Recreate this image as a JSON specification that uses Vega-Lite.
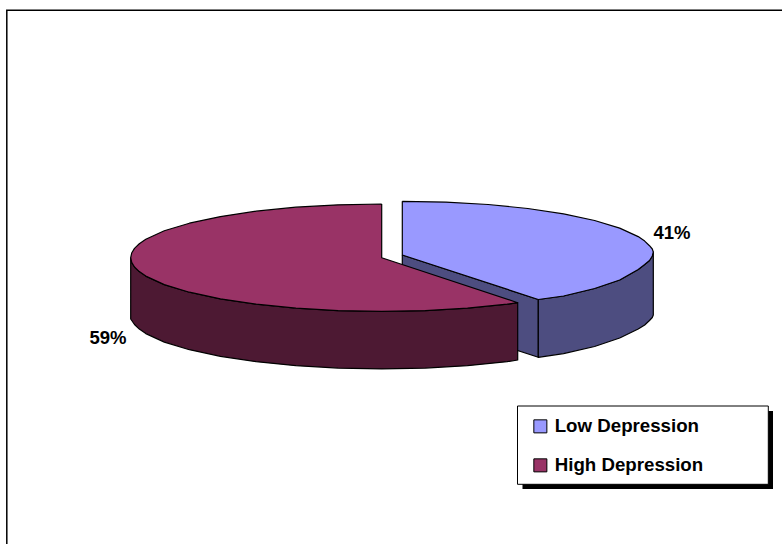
{
  "$schema": "https://vega.github.io/schema/vega-lite/v6.json",
  "width": 782,
  "height": 544,
  "padding": 0,
  "autosize": {"type": "none"},
  "background": "white",
  "config": {"view": {"stroke": null}},
  "datasets": {
    "frame": [
      {"i": 0, "x": 6.8, "y": 544},
      {"i": 1, "x": 6.8, "y": 10.3},
      {"i": 2, "x": 782, "y": 10.3}
    ],
    "legendBox": [
      {"box": "shadow", "x": 522.5, "x2": 773, "y": 411, "y2": 489},
      {"box": "panel", "x": 517.5, "x2": 768.3, "y": 406, "y2": 484.3}
    ],
    "pieLabels": [
      {"label": "41%", "x": 672, "y": 233},
      {"label": "59%", "x": 108, "y": 338}
    ],
    "faces": [
      {"part": "Low Depression inner", "i": 0, "x": 402.3, "y": 255},
      {"part": "Low Depression inner", "i": 1, "x": 538.3, "y": 299.5},
      {"part": "Low Depression inner", "i": 2, "x": 538.3, "y": 357.3},
      {"part": "Low Depression inner", "i": 3, "x": 402.3, "y": 312.5},
      {"part": "Low Depression inner", "i": 4, "x": 402.3, "y": 255},

      {"part": "Low Depression side", "i": 0, "x": 538.3, "y": 299.5},
      {"part": "Low Depression side", "i": 1, "x": 563.6, "y": 296},
      {"part": "Low Depression side", "i": 2, "x": 594.6, "y": 288.5},
      {"part": "Low Depression side", "i": 3, "x": 619.7, "y": 280},
      {"part": "Low Depression side", "i": 4, "x": 638.2, "y": 269.5},
      {"part": "Low Depression side", "i": 5, "x": 644.7, "y": 264.5},
      {"part": "Low Depression side", "i": 6, "x": 649.5, "y": 260.5},
      {"part": "Low Depression side", "i": 7, "x": 652.3, "y": 256},
      {"part": "Low Depression side", "i": 8, "x": 653.3, "y": 252},
      {"part": "Low Depression side", "i": 9, "x": 653.3, "y": 315},
      {"part": "Low Depression side", "i": 10, "x": 652.3, "y": 317.5},
      {"part": "Low Depression side", "i": 11, "x": 649.5, "y": 320.5},
      {"part": "Low Depression side", "i": 12, "x": 644.7, "y": 325},
      {"part": "Low Depression side", "i": 13, "x": 638.2, "y": 329},
      {"part": "Low Depression side", "i": 14, "x": 619.7, "y": 338},
      {"part": "Low Depression side", "i": 15, "x": 594.6, "y": 346.5},
      {"part": "Low Depression side", "i": 16, "x": 563.6, "y": 353.6},
      {"part": "Low Depression side", "i": 17, "x": 538.3, "y": 357.3},
      {"part": "Low Depression side", "i": 18, "x": 538.3, "y": 299.5},

      {"part": "High Depression side", "i": 0, "x": 130.7, "y": 257.7},
      {"part": "High Depression side", "i": 1, "x": 131.7, "y": 262.4},
      {"part": "High Depression side", "i": 2, "x": 134.5, "y": 267},
      {"part": "High Depression side", "i": 3, "x": 139.3, "y": 271.6},
      {"part": "High Depression side", "i": 4, "x": 145.8, "y": 276.1},
      {"part": "High Depression side", "i": 5, "x": 164.3, "y": 284.6},
      {"part": "High Depression side", "i": 6, "x": 189.4, "y": 292.2},
      {"part": "High Depression side", "i": 7, "x": 220.4, "y": 298.8},
      {"part": "High Depression side", "i": 8, "x": 256.2, "y": 304.2},
      {"part": "High Depression side", "i": 9, "x": 295.9, "y": 308.2},
      {"part": "High Depression side", "i": 10, "x": 338.1, "y": 310.6},
      {"part": "High Depression side", "i": 11, "x": 381.7, "y": 311.4},
      {"part": "High Depression side", "i": 12, "x": 425.3, "y": 310.6},
      {"part": "High Depression side", "i": 13, "x": 467.5, "y": 308.2},
      {"part": "High Depression side", "i": 14, "x": 507.2, "y": 304.2},
      {"part": "High Depression side", "i": 15, "x": 517.7, "y": 302.7},
      {"part": "High Depression side", "i": 16, "x": 517.7, "y": 360},
      {"part": "High Depression side", "i": 17, "x": 507.2, "y": 361.7},
      {"part": "High Depression side", "i": 18, "x": 467.5, "y": 365.7},
      {"part": "High Depression side", "i": 19, "x": 425.3, "y": 368.1},
      {"part": "High Depression side", "i": 20, "x": 381.7, "y": 368.9},
      {"part": "High Depression side", "i": 21, "x": 338.1, "y": 368.1},
      {"part": "High Depression side", "i": 22, "x": 295.9, "y": 365.7},
      {"part": "High Depression side", "i": 23, "x": 256.2, "y": 361.7},
      {"part": "High Depression side", "i": 24, "x": 220.4, "y": 356.3},
      {"part": "High Depression side", "i": 25, "x": 189.4, "y": 349.7},
      {"part": "High Depression side", "i": 26, "x": 164.3, "y": 342.1},
      {"part": "High Depression side", "i": 27, "x": 145.8, "y": 333.6},
      {"part": "High Depression side", "i": 28, "x": 139.3, "y": 329.1},
      {"part": "High Depression side", "i": 29, "x": 134.5, "y": 324.5},
      {"part": "High Depression side", "i": 30, "x": 130.7, "y": 319},
      {"part": "High Depression side", "i": 31, "x": 130.7, "y": 257.7},

      {"part": "Low Depression", "i": 0, "x": 402.3, "y": 201.3},
      {"part": "Low Depression", "i": 1, "x": 445.9, "y": 202.1},
      {"part": "Low Depression", "i": 2, "x": 488.1, "y": 204.5},
      {"part": "Low Depression", "i": 3, "x": 527.8, "y": 208.5},
      {"part": "Low Depression", "i": 4, "x": 563.6, "y": 213.9},
      {"part": "Low Depression", "i": 5, "x": 594.6, "y": 220.5},
      {"part": "Low Depression", "i": 6, "x": 619.7, "y": 228.1},
      {"part": "Low Depression", "i": 7, "x": 638.2, "y": 236.6},
      {"part": "Low Depression", "i": 8, "x": 644.7, "y": 241.1},
      {"part": "Low Depression", "i": 9, "x": 649.5, "y": 245.7},
      {"part": "Low Depression", "i": 10, "x": 652.3, "y": 249},
      {"part": "Low Depression", "i": 11, "x": 653.3, "y": 252},
      {"part": "Low Depression", "i": 12, "x": 652.3, "y": 256},
      {"part": "Low Depression", "i": 13, "x": 649.5, "y": 260.5},
      {"part": "Low Depression", "i": 14, "x": 644.7, "y": 264.5},
      {"part": "Low Depression", "i": 15, "x": 638.2, "y": 269.5},
      {"part": "Low Depression", "i": 16, "x": 619.7, "y": 280},
      {"part": "Low Depression", "i": 17, "x": 594.6, "y": 288.5},
      {"part": "Low Depression", "i": 18, "x": 563.6, "y": 296},
      {"part": "Low Depression", "i": 19, "x": 538.3, "y": 299.5},
      {"part": "Low Depression", "i": 20, "x": 402.3, "y": 255},
      {"part": "Low Depression", "i": 21, "x": 402.3, "y": 201.3},

      {"part": "High Depression", "i": 0, "x": 381.7, "y": 204},
      {"part": "High Depression", "i": 1, "x": 338.1, "y": 204.8},
      {"part": "High Depression", "i": 2, "x": 295.9, "y": 207.2},
      {"part": "High Depression", "i": 3, "x": 256.2, "y": 211.2},
      {"part": "High Depression", "i": 4, "x": 220.4, "y": 216.6},
      {"part": "High Depression", "i": 5, "x": 189.4, "y": 223.2},
      {"part": "High Depression", "i": 6, "x": 164.3, "y": 230.8},
      {"part": "High Depression", "i": 7, "x": 145.8, "y": 239.3},
      {"part": "High Depression", "i": 8, "x": 139.3, "y": 243.8},
      {"part": "High Depression", "i": 9, "x": 134.5, "y": 248.4},
      {"part": "High Depression", "i": 10, "x": 131.7, "y": 253},
      {"part": "High Depression", "i": 11, "x": 130.7, "y": 257.7},
      {"part": "High Depression", "i": 12, "x": 131.7, "y": 262.4},
      {"part": "High Depression", "i": 13, "x": 134.5, "y": 267},
      {"part": "High Depression", "i": 14, "x": 139.3, "y": 271.6},
      {"part": "High Depression", "i": 15, "x": 145.8, "y": 276.1},
      {"part": "High Depression", "i": 16, "x": 164.3, "y": 284.6},
      {"part": "High Depression", "i": 17, "x": 189.4, "y": 292.2},
      {"part": "High Depression", "i": 18, "x": 220.4, "y": 298.8},
      {"part": "High Depression", "i": 19, "x": 256.2, "y": 304.2},
      {"part": "High Depression", "i": 20, "x": 295.9, "y": 308.2},
      {"part": "High Depression", "i": 21, "x": 338.1, "y": 310.6},
      {"part": "High Depression", "i": 22, "x": 381.7, "y": 311.4},
      {"part": "High Depression", "i": 23, "x": 425.3, "y": 310.6},
      {"part": "High Depression", "i": 24, "x": 467.5, "y": 308.2},
      {"part": "High Depression", "i": 25, "x": 507.2, "y": 304.2},
      {"part": "High Depression", "i": 26, "x": 517.7, "y": 302.7},
      {"part": "High Depression", "i": 27, "x": 381.7, "y": 257.7},
      {"part": "High Depression", "i": 28, "x": 381.7, "y": 204}
    ]
  },
  "encoding": {
    "x": {"field": "x", "type": "quantitative", "axis": null, "scale": {"domain": [0, 782], "nice": false, "zero": false}},
    "y": {"field": "y", "type": "quantitative", "axis": null, "scale": {"domain": [544, 0], "nice": false, "zero": false}}
  },
  "layer": [
    {
      "data": {"name": "frame"},
      "mark": {"type": "line", "stroke": "#000000", "strokeWidth": 1.5, "clip": false},
      "encoding": {"order": {"field": "i", "type": "quantitative"}}
    },
    {
      "data": {"name": "legendBox"},
      "transform": [{"filter": "datum.box === 'shadow'"}],
      "mark": {"type": "rect", "fill": "#000000"},
      "encoding": {"x2": {"field": "x2"}, "y2": {"field": "y2"}}
    },
    {
      "data": {"name": "legendBox"},
      "transform": [{"filter": "datum.box === 'panel'"}],
      "mark": {"type": "rect", "fill": "#ffffff", "stroke": "#000000", "strokeWidth": 1},
      "encoding": {"x2": {"field": "x2"}, "y2": {"field": "y2"}}
    },
    {
      "data": {"name": "faces"},
      "transform": [{"filter": "indexof(datum.part, 'Low Depression') === 0 && datum.part !== 'Low Depression'"}],
      "mark": {"type": "line", "stroke": "#000000", "strokeWidth": 1.2, "strokeJoin": "round"},
      "encoding": {
        "fill": {"field": "part", "type": "nominal"},
        "detail": {"field": "part"},
        "order": {"field": "i", "type": "quantitative"}
      }
    },
    {
      "data": {"name": "faces"},
      "transform": [{"filter": "datum.part === 'Low Depression'"}],
      "mark": {"type": "line", "stroke": "#000000", "strokeWidth": 1.2, "strokeJoin": "round"},
      "encoding": {
        "fill": {"field": "part", "type": "nominal"},
        "order": {"field": "i", "type": "quantitative"}
      }
    },
    {
      "data": {"name": "faces"},
      "transform": [{"filter": "datum.part === 'High Depression side'"}],
      "mark": {"type": "line", "stroke": "#000000", "strokeWidth": 1.2, "strokeJoin": "round"},
      "encoding": {
        "fill": {"field": "part", "type": "nominal"},
        "order": {"field": "i", "type": "quantitative"}
      }
    },
    {
      "data": {"name": "faces"},
      "transform": [{"filter": "datum.part === 'High Depression'"}],
      "mark": {"type": "line", "stroke": "#000000", "strokeWidth": 1.2, "strokeJoin": "round"},
      "encoding": {
        "fill": {
          "field": "part",
          "type": "nominal",
          "scale": {
            "domain": ["Low Depression", "High Depression", "Low Depression inner", "Low Depression side", "High Depression side"],
            "range": ["#9999FF", "#993366", "#4D4D80", "#4D4D80", "#4D1933"]
          },
          "legend": {
            "values": ["Low Depression", "High Depression"],
            "title": null,
            "orient": "none",
            "legendX": 523,
            "legendY": 409,
            "padding": 8,
            "symbolType": "square",
            "symbolSize": 170,
            "symbolStrokeColor": "#222222",
            "symbolStrokeWidth": 1,
            "symbolOpacity": 1,
            "labelFont": "Liberation Sans",
            "labelFontSize": 18.7,
            "labelFontWeight": "bold",
            "labelColor": "#000000",
            "labelOffset": 5,
            "labelLimit": 220,
            "rowPadding": 19,
            "zindex": 1
          }
        },
        "order": {"field": "i", "type": "quantitative"}
      }
    },
    {
      "data": {"name": "pieLabels"},
      "mark": {"type": "text", "font": "Liberation Sans", "fontSize": 18.5, "fontWeight": "bold", "color": "#000000"},
      "encoding": {"text": {"field": "label"}}
    }
  ]
}
